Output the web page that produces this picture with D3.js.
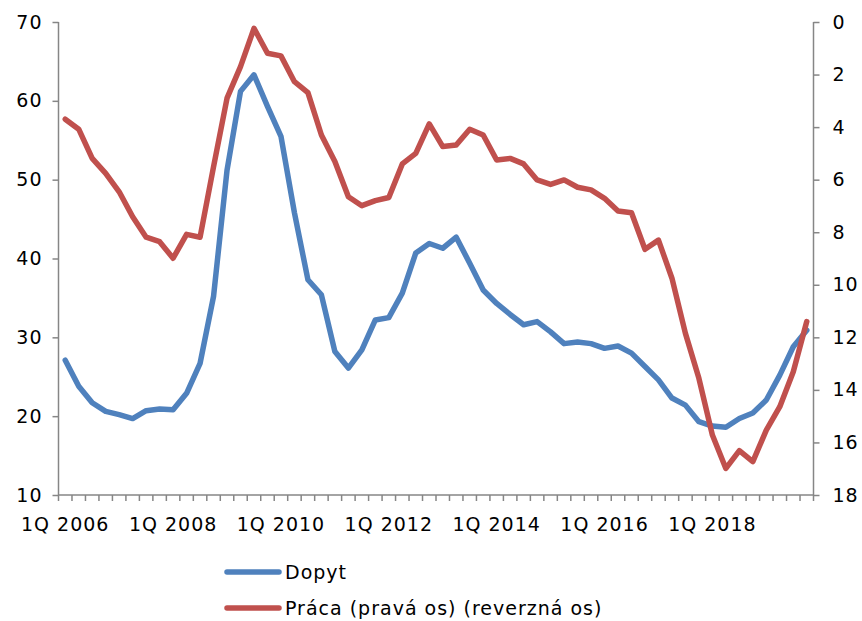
<!DOCTYPE html>
<html>
<head>
<meta charset="utf-8">
<script src="https://cdn.jsdelivr.net/npm/d3@7"></script>
<style>
  html, body { margin: 0; padding: 0; background: #fff; }
  svg { display: block; font-family: "DejaVu Sans", Verdana, sans-serif; }
</style>
</head>
<body>
<svg id="chart" width="862" height="621"></svg>
<script>
// Quarterly categories 1Q 2006 .. 4Q 2019
const years = d3.range(2006, 2020);
const quarters = years.flatMap(y => [1, 2, 3, 4].map(q => `${q}Q ${y}`));

// Dopyt (left axis)
const dopyt = [
  27.1, 23.8, 21.7, 20.6, 20.2, 19.7, 20.7, 20.9,
  20.8, 22.9, 26.7, 35.2, 51.2, 61.2, 63.3, 59.3,
  55.5, 45.8, 37.3, 35.4, 28.2, 26.1, 28.4, 32.2,
  32.5, 35.6, 40.7, 41.9, 41.3, 42.7, 39.4, 36.0,
  34.3, 32.9, 31.6, 32.0, 30.7, 29.2, 29.4, 29.2,
  28.6, 28.9, 28.0, 26.3, 24.6, 22.3, 21.4, 19.3,
  18.75, 18.6, 19.7, 20.4, 22.05, 25.2, 28.8, 30.9
];

// Práca (right axis, reversed)
const praca = [
  3.70, 4.08, 5.19, 5.76, 6.46, 7.41, 8.19, 8.36,
  8.99, 8.08, 8.19, 5.51, 2.90, 1.70, 0.24, 1.19,
  1.29, 2.27, 2.69, 4.30, 5.31, 6.65, 6.99, 6.80,
  6.68, 5.40, 5.00, 3.88, 4.74, 4.68, 4.08, 4.30,
  5.25, 5.19, 5.40, 6.01, 6.18, 6.01, 6.29, 6.39,
  6.71, 7.19, 7.26, 8.65, 8.30, 9.75, 11.85, 13.56,
  15.72, 16.99, 16.31, 16.73, 15.53, 14.64, 13.31, 11.40
];

const leftTicks = [10, 20, 30, 40, 50, 60, 70];
const rightTicks = [0, 2, 4, 6, 8, 10, 12, 14, 16, 18];
const xLabels = quarters.filter((d, i) => i % 8 === 0);

const seriesNames = ["Dopyt", "Práca (pravá os) (reverzná os)"];
const colors = ["#4F81BD", "#C0504D"];
const axisColor = "#868686";
const fontSize = 19;
const spacing = "1px";

const svg = d3.select("#chart");
const plot = { left: 58.5, right: 813.5, top: 22, bottom: 495 };

const x = d3.scaleBand().domain(quarters).range([plot.left, plot.right]).padding(0);
const yL = d3.scaleLinear().domain([10, 70]).range([plot.bottom, plot.top]);
const yR = d3.scaleLinear().domain([0, 18]).range([plot.top, plot.bottom]);
const cx = d => x(d) + x.bandwidth() / 2;

// Left axis
const gL = svg.append("g")
  .attr("transform", `translate(${plot.left},0)`)
  .call(d3.axisLeft(yL).tickValues(leftTicks).tickSize(6).tickPadding(10).tickFormat(d3.format("d")));

// Right axis
const gR = svg.append("g")
  .attr("transform", `translate(${plot.right},0)`)
  .call(d3.axisRight(yR).tickValues(rightTicks).tickSize(6).tickPadding(13).tickFormat(d3.format("d")));

// Bottom axis: tick marks at quarter boundaries, labels every second year
const gB = svg.append("g").attr("transform", `translate(0,${plot.bottom})`);
gB.append("line")
  .attr("x1", plot.left).attr("x2", plot.right)
  .attr("y1", 0).attr("y2", 0);
const boundaries = quarters.map(q => x(q)).concat([x.range()[1]]);
gB.selectAll("line.tick")
  .data(boundaries)
  .join("line")
  .attr("class", "tick")
  .attr("x1", d => d).attr("x2", d => d)
  .attr("y1", 0).attr("y2", 6);
gB.selectAll("text")
  .data(xLabels)
  .join("text")
  .attr("x", d => cx(d))
  .attr("y", 36)
  .attr("text-anchor", "middle")
  .text(d => d);

[gL, gR].forEach(g => {
  g.select(".domain").attr("stroke", axisColor).attr("stroke-width", 1.5);
  g.selectAll(".tick line").attr("stroke", axisColor).attr("stroke-width", 1.5);
});
gL.select(".domain").attr("d", `M0,${plot.bottom}V${plot.top}`);
gR.select(".domain").attr("d", `M0,${plot.bottom}V${plot.top}`);
gB.selectAll("line").attr("stroke", axisColor).attr("stroke-width", 1.5);

// Lines
const lineL = d3.line().x((d, i) => cx(quarters[i])).y(d => yL(d));
const lineR = d3.line().x((d, i) => cx(quarters[i])).y(d => yR(d));

svg.append("path")
  .datum(dopyt)
  .attr("d", lineL)
  .attr("fill", "none")
  .attr("stroke", colors[0])
  .attr("stroke-width", 5.5)
  .attr("stroke-linejoin", "round")
  .attr("stroke-linecap", "round");

svg.append("path")
  .datum(praca)
  .attr("d", lineR)
  .attr("fill", "none")
  .attr("stroke", colors[1])
  .attr("stroke-width", 5.5)
  .attr("stroke-linejoin", "round")
  .attr("stroke-linecap", "round");

// Legend
const legend = svg.append("g").attr("transform", "translate(227,572)");
seriesNames.forEach((name, i) => {
  const row = legend.append("g").attr("transform", `translate(0,${i * 36})`);
  row.append("line")
    .attr("x1", 0).attr("x2", 52)
    .attr("y1", 0).attr("y2", 0)
    .attr("stroke", colors[i])
    .attr("stroke-width", 5.5)
    .attr("stroke-linecap", "round");
  row.append("text")
    .attr("x", 58)
    .attr("y", 7)
    .text(name);
});

// Shared text styling
svg.selectAll("text")
  .attr("font-size", fontSize)
  .attr("letter-spacing", spacing)
  .attr("fill", "#000")
  .attr("font-family", "'DejaVu Sans', Verdana, sans-serif");
</script>
</body>
</html>
